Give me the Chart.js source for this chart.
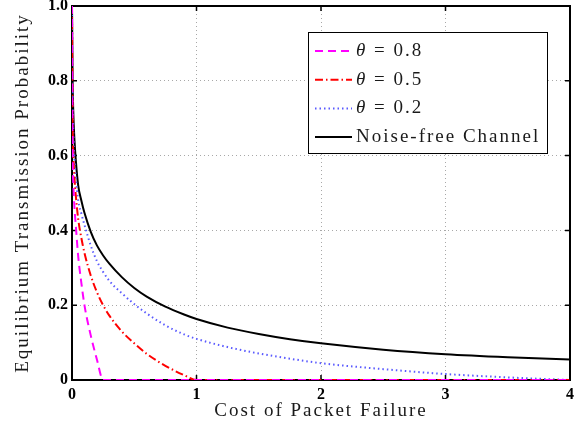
<!DOCTYPE html>
<html>
<head>
<meta charset="utf-8">
<script src="https://cdn.jsdelivr.net/npm/chart.js@4.4.0/dist/chart.umd.min.js"></script>
<style>
  html, body { margin: 0; padding: 0; background: #fff; }
  #wrap { width: 583px; height: 428px; position: relative; }
</style>
</head>
<body>
<div id="wrap"><canvas id="probChart"></canvas></div>
<script>
// values
const costs = [0, 0.005, 0.01, 0.02, 0.03, 0.05, 0.075, 0.1, 0.15, 0.2,
  0.25, 0.3, 0.4, 0.5, 0.6, 0.75, 0.9, 1, 1.25, 1.5, 1.75, 2, 2.5, 3, 3.5, 4];
const theta08 = [1, 0.6, 0.53, 0.46, 0.415, 0.33, 0.26, 0.2, 0.12, 0.055,
  0, 0, 0, 0, 0, 0, 0, 0, 0, 0, 0, 0, 0, 0, 0, 0];
const theta05 = [1, 0.68, 0.61, 0.54, 0.495, 0.43, 0.38, 0.34, 0.28, 0.235,
  0.2, 0.172, 0.13, 0.098, 0.07, 0.038, 0.013, 0, 0, 0, 0, 0, 0, 0, 0, 0];
const theta02 = [1, 0.76, 0.67, 0.59, 0.545, 0.48, 0.445, 0.415, 0.36, 0.318,
  0.289, 0.265, 0.232, 0.203, 0.178, 0.146, 0.122, 0.11, 0.088, 0.071, 0.057, 0.045, 0.029, 0.016, 0.007, 0];
const noiseFree = [1, 0.8, 0.72, 0.64, 0.59, 0.52, 0.48, 0.447, 0.397, 0.36,
  0.333, 0.311, 0.275, 0.246, 0.223, 0.196, 0.175, 0.163, 0.14, 0.123, 0.109, 0.098, 0.081, 0.069, 0.061, 0.055];
const xTicks = [0, 1, 2, 3, 4];
const yTicks = [0, 0.2, 0.4, 0.6, 0.8, 1];

function pts(vals) {
  return costs.map((c, i) => ({ x: c, y: vals[i] }));
}

const serif = '"Liberation Serif", "Times New Roman", serif';

// box round the plot + inward tick marks (MATLAB look)
const frame = {
  id: 'frame',
  beforeDraw(chart) {
    chart.ctx.letterSpacing = '2px'; // axis titles
  },
  beforeDatasetsDraw(chart) {
    const { ctx, chartArea: a, scales: { x, y } } = chart;
    ctx.save();
    ctx.strokeStyle = '#000';
    ctx.lineWidth = 2;
    ctx.strokeRect(a.left, a.top, a.right - a.left, a.bottom - a.top);
    ctx.lineWidth = 1.5;
    ctx.beginPath();
    xTicks.forEach(v => {
      const px = x.getPixelForValue(v);
      ctx.moveTo(px, a.bottom); ctx.lineTo(px, a.bottom - 5);
      ctx.moveTo(px, a.top); ctx.lineTo(px, a.top + 5);
    });
    yTicks.forEach(v => {
      const py = y.getPixelForValue(v);
      ctx.moveTo(a.left, py); ctx.lineTo(a.left + 5, py);
      ctx.moveTo(a.right, py); ctx.lineTo(a.right - 5, py);
    });
    ctx.stroke();
    ctx.restore();
  },
  afterDatasetsDraw(chart) {
    chart.ctx.letterSpacing = '0px';
  }
};

// boxed legend in the upper right
const legendBox = {
  id: 'legendBox',
  afterDraw(chart) {
    const { ctx, chartArea: a } = chart;
    const w = 239, h = 121;
    const left = a.right - 23 - w, top = a.top + 26;
    ctx.save();
    ctx.fillStyle = '#fff';
    ctx.fillRect(left, top, w, h);
    ctx.strokeStyle = '#000';
    ctx.lineWidth = 1;
    ctx.strokeRect(left + 0.5, top + 0.5, w, h);
    ctx.letterSpacing = '2px';
    ctx.textBaseline = 'middle';
    chart.data.datasets.forEach((ds, i) => {
      const cy = top + 19 + i * 28.7;
      ctx.strokeStyle = ds.borderColor;
      ctx.lineWidth = ds.borderWidth;
      ctx.setLineDash(ds.borderDash || []);
      ctx.beginPath();
      ctx.moveTo(left + 7, cy);
      ctx.lineTo(left + 44, cy);
      ctx.stroke();
      ctx.setLineDash([]);
      ctx.fillStyle = '#1a1a1a';
      let tx = left + 48;
      if (ds.label.startsWith('θ')) {
        ctx.font = 'italic 19px ' + serif;
        ctx.fillText('θ', tx, cy);
        tx += ctx.measureText('θ').width;
        ctx.font = '19px ' + serif;
        ctx.fillText(ds.label.slice(1), tx, cy);
      } else {
        ctx.font = '19px ' + serif;
        ctx.fillText(ds.label, tx, cy);
      }
    });
    ctx.restore();
  }
};

const ctx = document.getElementById('probChart').getContext('2d');
const probChart = new Chart(ctx, {
  type: 'line',
  data: {
    datasets: [
      { label: 'θ = 0.8', data: pts(theta08), borderColor: '#ff00ff', borderWidth: 2, borderDash: [8, 5] },
      { label: 'θ = 0.5', data: pts(theta05), borderColor: '#ff0000', borderWidth: 2, borderDash: [8, 3, 1.5, 3] },
      { label: 'θ = 0.2', data: pts(theta02), borderColor: '#5a5aff', borderWidth: 2, borderDash: [1.5, 3] },
      { label: 'Noise-free Channel', data: pts(noiseFree), borderColor: '#000000', borderWidth: 2 }
    ]
  },
  options: {
    responsive: true,
    maintainAspectRatio: false,
    animation: false,
    elements: {
      point: { radius: 0 },
      line: { cubicInterpolationMode: 'monotone', fill: false }
    },
    layout: { padding: { left: 0, right: 13, top: 6, bottom: 0 } },
    plugins: {
      legend: { display: false },
      tooltip: { enabled: false }
    },
    scales: {
      x: {
        type: 'linear',
        min: 0,
        max: 4,
        afterBuildTicks: s => { s.ticks = xTicks.map(v => ({ value: v })); },
        afterFit: s => { s.height = 48; },
        grid: { color: '#a8a8a8', lineWidth: 1, drawTicks: false },
        border: { display: false, dash: [1, 3] },
        ticks: { z: 1, padding: 5, color: '#000', font: { family: serif, size: 16, weight: 'bold' } },
        title: {
          display: true,
          text: 'Cost of Packet Failure',
          color: '#1a1a1a',
          font: { family: serif, size: 19 },
          padding: { top: 0, bottom: 6 }
        }
      },
      y: {
        min: 0,
        max: 1,
        afterBuildTicks: s => { s.ticks = yTicks.map(v => ({ value: v })); },
        afterFit: s => { s.width = 72; s.paddingTop = 0; s.paddingBottom = 0; },
        grid: { color: '#a8a8a8', lineWidth: 1, drawTicks: false },
        border: { display: false, dash: [1, 3] },
        ticks: { z: 1, padding: 4, color: '#000', font: { family: serif, size: 16, weight: 'bold' } },
        title: {
          display: true,
          text: 'Equilibrium Transmission Probability',
          color: '#1a1a1a',
          font: { family: serif, size: 19 },
          padding: { top: 12, bottom: 0 }
        }
      }
    }
  },
  plugins: [frame, legendBox]
});
</script>
</body>
</html>
